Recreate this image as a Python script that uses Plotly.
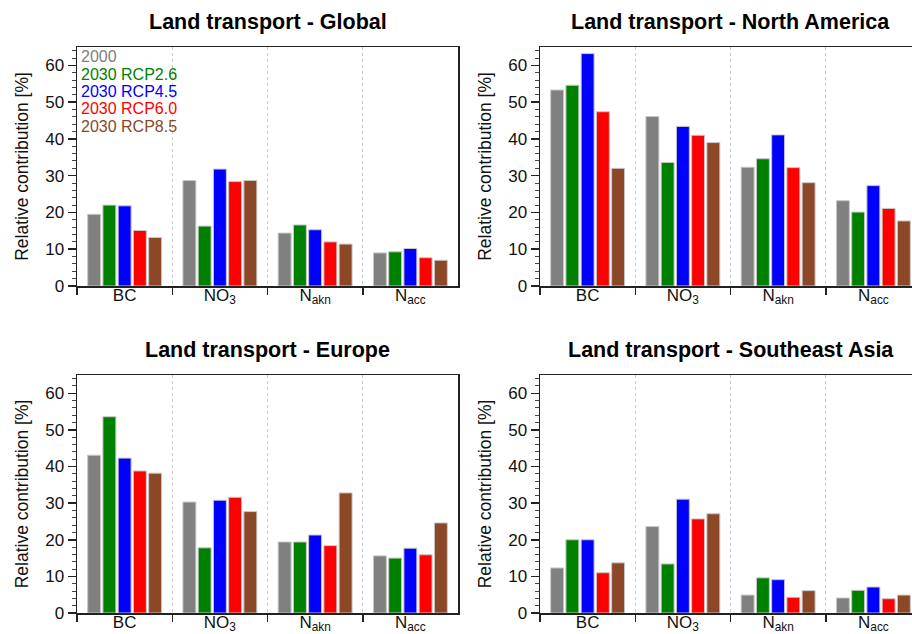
import plotly.graph_objects as go
from plotly.subplots import make_subplots

categories = ["BC", "NO<sub>3</sub>", "N<sub>akn</sub>", "N<sub>acc</sub>"]
series_names = ["2000", "2030 RCP2.6", "2030 RCP4.5", "2030 RCP6.0", "2030 RCP8.5"]
series_colors = ["#808080", "#008000", "#0000ff", "#ff0000", "#8b4726"]
panel_titles = ["Land transport - Global", "Land transport - North America",
                "Land transport - Europe", "Land transport - Southeast Asia"]

# values[series] per category (BC, NO3, Nakn, Nacc)
global_vals = [
    [19.5, 28.7, 14.4, 9.0],
    [22.0, 16.3, 16.6, 9.3],
    [21.8, 31.8, 15.3, 10.2],
    [15.1, 28.4, 12.0, 7.7],
    [13.2, 28.7, 11.4, 7.0],
]
north_america_vals = [
    [53.3, 46.1, 32.3, 23.2],
    [54.6, 33.6, 34.6, 20.1],
    [63.2, 43.4, 41.1, 27.3],
    [47.4, 41.0, 32.2, 21.1],
    [32.0, 39.0, 28.1, 17.7],
]
europe_vals = [
    [43.1, 30.3, 19.4, 15.6],
    [53.6, 17.8, 19.4, 15.0],
    [42.3, 30.8, 21.3, 17.7],
    [38.8, 31.6, 18.4, 15.9],
    [38.2, 27.7, 32.8, 24.6],
]
southeast_asia_vals = [
    [12.3, 23.6, 4.9, 4.1],
    [20.0, 13.4, 9.6, 6.2],
    [20.0, 31.1, 9.1, 7.1],
    [11.0, 25.7, 4.3, 3.9],
    [13.7, 27.1, 6.1, 4.9],
]
panels = [global_vals, north_america_vals, europe_vals, southeast_asia_vals]

W, H = 912, 634
FONT = "Liberation Sans, Arial, Helvetica, sans-serif"

fig = make_subplots(rows=2, cols=2)

# panel pixel boxes on screen: (left, right, top, bottom)
boxes = [(77, 458, 47, 286), (540, 921, 47, 286),
         (77, 458, 375, 613), (540, 921, 375, 613)]
title_y = [22, 22, 350, 350]

for p, vals in enumerate(panels):
    r, c = p // 2 + 1, p % 2 + 1
    for s, name in enumerate(series_names):
        fig.add_trace(go.Bar(
            x=categories, y=vals[s], name=name,
            marker=dict(color=series_colors[s], line=dict(color="#c8c8c8", width=1)),
            showlegend=False, hoverinfo="skip",
        ), row=r, col=c)

    left, right, top, bottom = boxes[p]
    visible_right = min(right, W)
    xd = [left / W, visible_right / W]
    yd = [1 - bottom / H, 1 - top / H]
    full_w = right - left
    xmax = -0.5 + 4 * (visible_right - left) / full_w
    ax = "" if p == 0 else str(p + 1)
    fig.layout["xaxis" + ax].update(
        domain=xd, range=[-0.5, xmax], type="category", automargin=False,
        tickson="boundaries", ticks="outside", ticklen=7, tickwidth=1.5,
        tickcolor="#222", showline=True, linecolor="#222", linewidth=1.5,
        mirror=True, showgrid=True, gridcolor="#c8c8c8", griddash="dot",
        gridwidth=1, tickfont=dict(size=17, color="#111", family=FONT),
        ticklabelstandoff=-7, zeroline=False,
    )
    fig.layout["yaxis" + ax].update(
        domain=yd, range=[0, 65], tickmode="array", automargin=False,
        tickvals=[0, 10, 20, 30, 40, 50, 60],
        ticks="outside", ticklen=8, tickwidth=1.5, tickcolor="#222",
        minor=dict(ticks="outside", ticklen=4, tickwidth=1, tickcolor="#444",
                   tickmode="linear", tick0=0, dtick=2, showgrid=False),
        showline=True, linecolor="#222", linewidth=1.5, mirror=True,
        showgrid=False, zeroline=False,
        tickfont=dict(size=17, color="#111", family=FONT),
        title=dict(text="Relative contribution [%]",
                   font=dict(size=17.5, color="#111", family=FONT), standoff=12),
    )
    fig.add_annotation(
        text="<b>%s</b>" % panel_titles[p], xref="paper", yref="paper",
        x=(left + right) / 2 / W, y=1 - title_y[p] / H,
        xanchor="center", yanchor="middle", showarrow=False,
        font=dict(size=21.5, color="#000", family=FONT),
    )

# legend as coloured text in the first panel
for s, name in enumerate(series_names):
    fig.add_annotation(
        text=name, xref="x domain", yref="y domain",
        x=0.005, y=(286 - (57 + 17.3 * s)) / 239,
        xanchor="left", yanchor="middle", showarrow=False,
        font=dict(size=16, color=series_colors[s], family=FONT),
    )

fig.update_layout(
    width=W, height=H, margin=dict(l=0, r=0, t=0, b=0, autoexpand=False),
    plot_bgcolor="white", paper_bgcolor="white",
    barmode="group", bargap=0.2, bargroupgap=0.15,
    font=dict(family=FONT, color="#111"), hovermode=False,
)

fig.write_html(
    "out.html",
    config={"displayModeBar": False, "staticPlot": True},
    post_script="document.body.style.margin='0';document.body.style.overflow='hidden';",
)
